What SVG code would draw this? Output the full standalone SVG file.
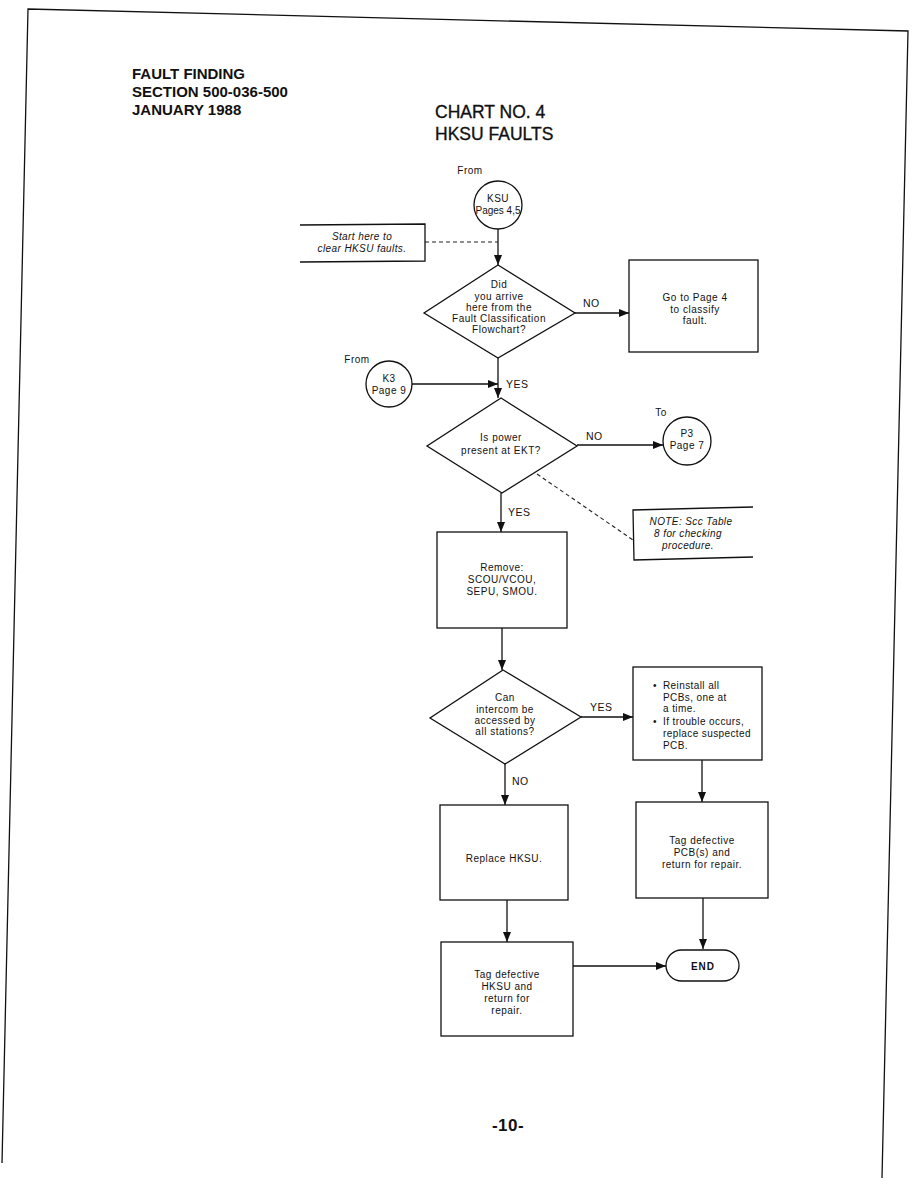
<svg xmlns="http://www.w3.org/2000/svg" width="918" height="1188" viewBox="0 0 918 1188">
<style>
.ln{stroke:#111;stroke-width:1.3;fill:none}
.dash{stroke:#222;stroke-width:1.1;fill:none;stroke-dasharray:4,3}
.box{stroke:#111;stroke-width:1.3;fill:#fff}
.t{font-family:"Liberation Sans",Arial,sans-serif;font-size:10px;letter-spacing:0.5px;fill:#111;text-anchor:middle}
.ti{font-family:"Liberation Sans",Arial,sans-serif;font-size:10px;letter-spacing:0.4px;fill:#111;text-anchor:middle;font-style:italic}
.tl{font-family:"Liberation Sans",Arial,sans-serif;font-size:10px;letter-spacing:0.4px;fill:#111}
.lab{font-family:"Liberation Sans",Arial,sans-serif;font-size:10.5px;letter-spacing:0.5px;fill:#111}
.hd{font-family:"Liberation Sans Narrow","Liberation Sans",Arial,sans-serif;font-size:15px;font-weight:bold;fill:#111}
.ttl{font-family:"Liberation Sans",Arial,sans-serif;font-size:17.5px;fill:#111;stroke:#111;stroke-width:0.35}
</style>
<defs>
<marker id="arr" markerWidth="10" markerHeight="8" refX="10" refY="4" orient="auto" markerUnits="userSpaceOnUse">
<path d="M0,0 L10,4 L0,8 Z" fill="#111"/>
</marker>
</defs>
<rect width="918" height="1188" fill="#fff"/>
<g id="frame">
<path class="ln" d="M2,1163 L28,9 L908,31 L882,1178" stroke-width="1.5"/>
</g>
<g id="header">
<text class="hd" x="132" y="79">FAULT FINDING</text>
<text class="hd" x="132" y="97">SECTION 500-036-500</text>
<text class="hd" x="132" y="115">JANUARY 1988</text>
<text class="ttl" x="435" y="118">CHART NO. 4</text>
<text class="ttl" x="435" y="140">HKSU FAULTS</text>
</g>
<g id="connectors">
<line class="ln" x1="498" y1="229" x2="498" y2="265" marker-end="url(#arr)"/>
<line class="dash" x1="425" y1="242" x2="498" y2="242"/>
<line class="ln" x1="575" y1="313" x2="629" y2="313" marker-end="url(#arr)"/>
<line class="ln" x1="498" y1="358" x2="498" y2="398" marker-end="url(#arr)"/>
<line class="ln" x1="412" y1="384" x2="498" y2="384" marker-end="url(#arr)"/>
<line class="ln" x1="577" y1="445" x2="663" y2="445" marker-end="url(#arr)"/>
<line class="dash" x1="537" y1="474" x2="633" y2="540"/>
<line class="ln" x1="501" y1="493" x2="501" y2="532" marker-end="url(#arr)"/>
<line class="ln" x1="502" y1="628" x2="502" y2="670" marker-end="url(#arr)"/>
<line class="ln" x1="581" y1="717" x2="633" y2="717" marker-end="url(#arr)"/>
<line class="ln" x1="505" y1="764" x2="505" y2="805" marker-end="url(#arr)"/>
<line class="ln" x1="702" y1="760" x2="702" y2="802" marker-end="url(#arr)"/>
<line class="ln" x1="507" y1="900" x2="507" y2="942" marker-end="url(#arr)"/>
<line class="ln" x1="703" y1="898" x2="703" y2="949" marker-end="url(#arr)"/>
<line class="ln" x1="573" y1="966" x2="666" y2="966" marker-end="url(#arr)"/>
<text class="lab" x="583" y="307">NO</text>
<text class="lab" x="506" y="388">YES</text>
<text class="lab" x="586" y="440">NO</text>
<text class="lab" x="508" y="516">YES</text>
<text class="lab" x="590" y="711">YES</text>
<text class="lab" x="512" y="785">NO</text>
</g>
<g id="ksu">
<text class="t" x="470" y="174">From</text>
<circle class="box" cx="498" cy="205" r="24"/>
<text class="t" x="498" y="202">KSU</text>
<text class="t" x="498" y="214" style="letter-spacing:0">Pages 4,5</text>
</g>
<g id="start">
<path class="ln" d="M300,225 L425,224 L425,261 L300,262"/>
<text class="ti" x="362" y="240">Start here to</text>
<text class="ti" x="362" y="252">clear HKSU faults.</text>
</g>
<g id="d1">
<polygon class="box" points="498,265 575,313 498,358 424,313"/>
<text class="t" x="499" y="288">Did</text>
<text class="t" x="499" y="300">you arrive</text>
<text class="t" x="499" y="311">here from the</text>
<text class="t" x="499" y="322">Fault Classification</text>
<text class="t" x="499" y="333">Flowchart?</text>
</g>
<g id="goto4">
<rect class="box" x="629" y="260" width="129" height="92"/>
<text class="t" x="695" y="301">Go to Page 4</text>
<text class="t" x="695" y="313">to classify</text>
<text class="t" x="695" y="324">fault.</text>
</g>
<g id="k3">
<text class="t" x="357" y="363">From</text>
<circle class="box" cx="389" cy="384" r="23"/>
<text class="t" x="389" y="382">K3</text>
<text class="t" x="389" y="394">Page 9</text>
</g>
<g id="d2">
<polygon class="box" points="501,398 577,446 502,493 427,446"/>
<text class="t" x="501" y="441">Is power</text>
<text class="t" x="501" y="454">present at EKT?</text>
</g>
<g id="p3">
<text class="t" x="661" y="416">To</text>
<circle class="box" cx="687" cy="441" r="24"/>
<text class="t" x="687" y="437">P3</text>
<text class="t" x="687" y="449">Page 7</text>
</g>
<g id="note">
<path class="ln" d="M753,507 L633,510 L634,560 L753,557"/>
<text class="ti" x="691" y="525">NOTE:  Scc Table</text>
<text class="ti" x="688" y="537">8 for checking</text>
<text class="ti" x="688" y="549">procedure.</text>
</g>
<g id="remove">
<rect class="box" x="437" y="532" width="130" height="96"/>
<text class="t" x="502" y="571">Remove:</text>
<text class="t" x="502" y="583">SCOU/VCOU,</text>
<text class="t" x="502" y="595">SEPU, SMOU.</text>
</g>
<g id="d3">
<polygon class="box" points="503,670 581,717 505,764 430,718"/>
<text class="t" x="505" y="701">Can</text>
<text class="t" x="505" y="713">intercom be</text>
<text class="t" x="505" y="724">accessed by</text>
<text class="t" x="505" y="735">all stations?</text>
</g>
<g id="reinstall">
<rect class="box" x="633" y="667" width="129" height="93"/>
<text class="tl" x="653" y="689">•</text>
<text class="tl" x="663" y="689">Reinstall all</text>
<text class="tl" x="663" y="701">PCBs, one at</text>
<text class="tl" x="663" y="712">a time.</text>
<text class="tl" x="653" y="725">•</text>
<text class="tl" x="663" y="725">If trouble occurs,</text>
<text class="tl" x="663" y="737">replace suspected</text>
<text class="tl" x="663" y="749">PCB.</text>
</g>
<g id="replace">
<rect class="box" x="440" y="805" width="128" height="95"/>
<text class="t" x="504" y="862">Replace HKSU.</text>
</g>
<g id="tagpcb">
<rect class="box" x="636" y="802" width="132" height="96"/>
<text class="t" x="702" y="844">Tag defective</text>
<text class="t" x="702" y="856">PCB(s) and</text>
<text class="t" x="702" y="868">return for repair.</text>
</g>
<g id="taghksu">
<rect class="box" x="441" y="942" width="132" height="94"/>
<text class="t" x="507" y="978">Tag defective</text>
<text class="t" x="507" y="990">HKSU and</text>
<text class="t" x="507" y="1002">return for</text>
<text class="t" x="507" y="1014">repair.</text>
</g>
<g id="end">
<rect class="box" x="666" y="950" width="73" height="31" rx="15.5"/>
<text class="t" x="703" y="970" style="font-weight:bold;letter-spacing:1px">END</text>
</g>
<g id="footer">
<text class="t" x="508" y="1131" style="font-size:17px;font-weight:bold;letter-spacing:0.5px">-10-</text>
</g>
</svg>
